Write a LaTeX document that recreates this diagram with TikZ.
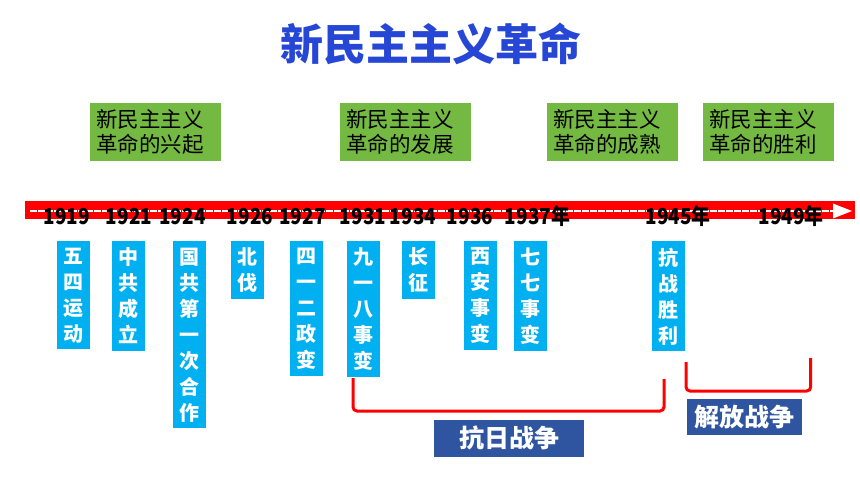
\documentclass[tikz,border=0pt]{standalone}
\usepackage{fontspec}
\usepackage{graphicx}
\setmainfont{Noto Sans CJK SC}
\usetikzlibrary{arrows.meta}
\definecolor{titleblue}{HTML}{2646D6}
\definecolor{eventblue}{HTML}{00B0F0}
\definecolor{stagegreen}{HTML}{74BA42}
\definecolor{warblue}{HTML}{2F55A0}
\newcommand{\yeartext}[1]{\scalebox{0.86}[1]{#1}}
\tikzset{
    event/.style={fill=eventblue, text=white, font=\fontsize{20}{26}\selectfont\bfseries, align=center, anchor=north, minimum width=33, inner xsep=0, inner ysep=6.5},
    stage/.style={fill=stagegreen, anchor=north west, text width=119, minimum height=58, inner xsep=6, align=left, font=\fontsize{21.5}{25}\selectfont},
    year/.style={font=\fontsize{22}{22}\selectfont\bfseries, anchor=base, inner sep=0},
    war/.style={fill=warblue, text=white, font=\fontsize{25}{25}\selectfont\bfseries},
    bracket/.style={red, line width=3, rounded corners=4}
}
\begin{document}
\begin{tikzpicture}[x=1pt, y=-1pt]
    \useasboundingbox (0,0) rectangle (860,484);
    \node[font=\fontsize{43}{43}\selectfont\bfseries, text=titleblue] (title) at (431,44) {新民主主义革命};
    \foreach \x/\t [count=\i] in {90/兴起, 340/发展, 547/成熟, 703/胜利}
        \node[stage] (stage\i) at (\x,103) {新民主主义\\革命的\t};
    \fill[red] (25,201) rectangle (855,219);
    \draw[white, line width=1.5, dash pattern=on 7 off 1] (30,211) -- (834,211);
    \fill[white] (833,203.5) -- (852,211) -- (833,218.5) -- cycle;
    \foreach \x/\t [count=\i] in {66.7/1919, 129/1921, 182.5/1924, 250/1926, 302.5/1927, 363/1931, 413/1934, 470/1936, 537.5/1937年, 678/1945年, 791/1949年}
        \node[year] (year\i) at (\x,225) {\yeartext{\t}};
    \foreach \x/\t [count=\i] in {73/五\\四\\运\\动, 128/中\\共\\成\\立, 189.5/国\\共\\第\\一\\次\\合\\作, 247.5/北\\伐, 306/四\\一\\二\\政\\变, 363.7/九\\一\\八\\事\\变, 418.7/长\\征, 480/西\\安\\事\\变, 530.8/七\\七\\事\\变, 668.7/抗\\战\\胜\\利}
        \node[event] (event\i) at (\x,241) {\t};
    \coordinate (kr1) at (353,378);
    \coordinate (kr2) at (664,379);
    \coordinate (krm) at (509,411);
    \coordinate (jf1) at (686,362);
    \coordinate (jf2) at (810.7,358);
    \coordinate (jfm) at (748,391);
    \draw[bracket] (kr1) |- (krm) -| (kr2);
    \draw[bracket] (jf1) |- (jfm) -| (jf2);
    \node[war, minimum width=150, minimum height=37] (kangri) at (509,438) {抗日战争};
    \node[war, minimum width=115, minimum height=36] (jiefang) at (744,417) {解放战争};
\end{tikzpicture}
\end{document}
